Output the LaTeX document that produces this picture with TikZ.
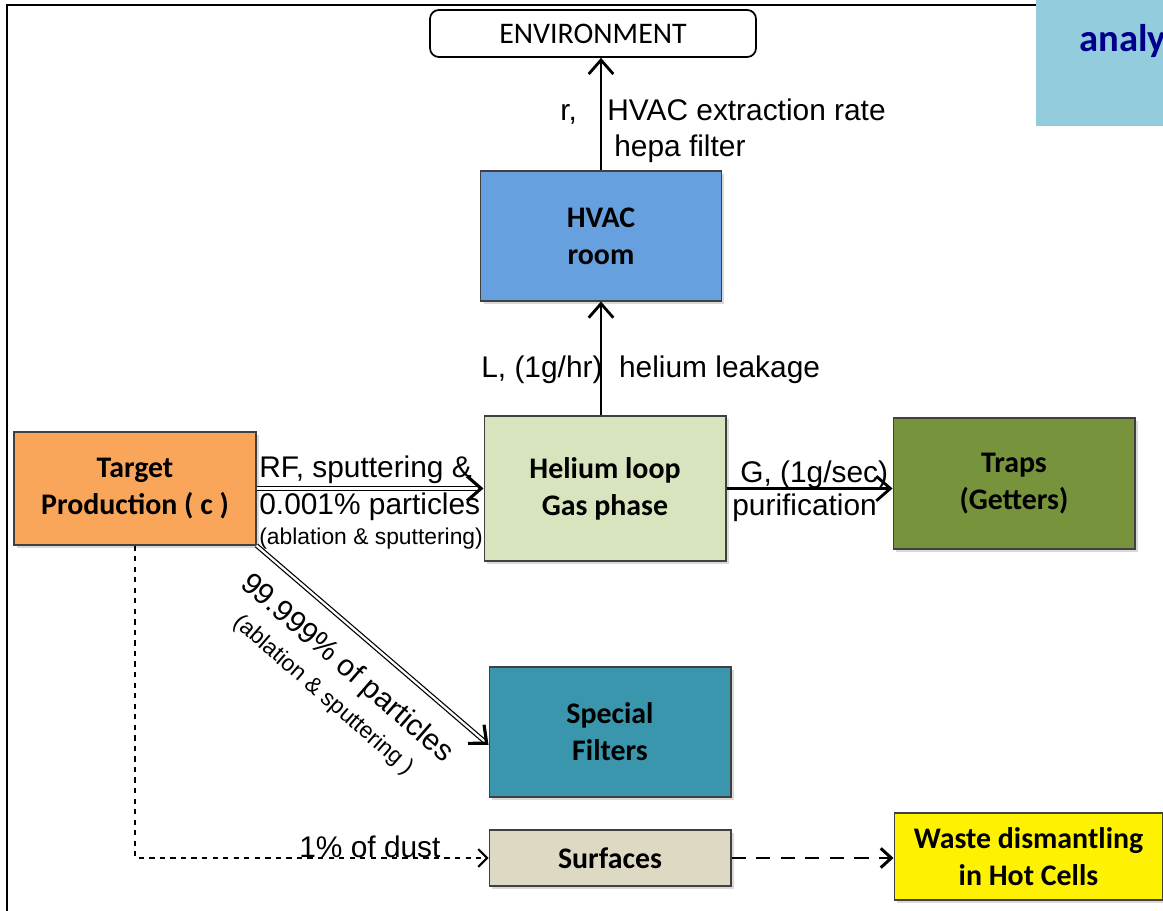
\documentclass[tikz,border=0pt]{standalone}
\usepackage{fontspec}
\setmainfont{Liberation Sans}
\newfontfamily\boxfont{Carlito}
\usetikzlibrary{positioning,arrows.meta,shadows}

\definecolor{targetc}{RGB}{250,166,90}
\definecolor{hvacc}{RGB}{102,160,222}
\definecolor{heliumc}{RGB}{215,228,189}
\definecolor{trapsc}{RGB}{119,147,60}
\definecolor{filterc}{RGB}{58,150,172}
\definecolor{surfc}{RGB}{221,217,195}
\definecolor{cornerc}{RGB}{147,205,221}
\definecolor{cornertxt}{RGB}{0,0,140}

\begin{document}
\begin{tikzpicture}
  [x=0.02cm,y=-0.02cm,
   every node/.style={inner sep=0pt},
   box/.style={draw=black!75,line width=0.6pt,align=center,
     font=\boxfont\bfseries\fontsize{17}{21}\selectfont,
     drop shadow={opacity=0.3,shadow xshift=0.6mm,shadow yshift=-0.6mm}},
   lbl/.style={font=\fontsize{17}{20}\selectfont},
   small/.style={font=\fontsize{13}{15}\selectfont},
   flow/.style={line width=1.6pt,-{Straight Barb[length=8pt,width=14pt]}},
   dflow/.style={double,double distance=1.3pt,line width=0.7pt,
     -{Straight Barb[length=8pt,width=14pt,line width=1.8pt]}},
   dust/.style={dashed,line width=0.8pt,-{Straight Barb[length=5pt,width=10pt,line width=1.2pt]}},
   waste/.style={dash pattern=on 8pt off 6pt,line width=1.7pt,
     -{Straight Barb[length=6pt,width=11pt]}}]
  \useasboundingbox (0,0) rectangle (1163,911);
  \draw[line width=1.2pt] (7,911) -- (7,5) -- (1036,5);

  % corner box, cut by the page edge
  \fill[cornerc] (1036,0) rectangle (1163,126);
  \begin{scope}
    \clip (1036,0) rectangle (1163,126);
    \node (anl) [anchor=base west,text=cornertxt,
      font=\boxfont\bfseries\fontsize{22}{26}\selectfont] at (1079,52) {analy};
  \end{scope}

  \node (env) [draw,line width=1pt,rounded corners=5pt,fill=white,
    minimum width=6.52cm,minimum height=0.94cm,
    font=\boxfont\fontsize{17}{20}\selectfont] at (593,33.5) {ENVIRONMENT};
  \node (hvac) [box,fill=hvacc,minimum width=4.82cm,minimum height=2.6cm]
    at (601,236) {HVAC\\room};
  \node (target) [box,fill=targetc,minimum width=4.84cm,minimum height=2.26cm]
    at (135,488.5) {Target\\Production ( c )};
  \node (helium) [box,fill=heliumc,minimum width=4.84cm,minimum height=2.9cm]
    at (605,488.5) {Helium loop\\Gas phase};
  \node (traps) [box,fill=trapsc,minimum width=4.84cm,minimum height=2.62cm]
    at (1014,483.5) {Traps\\(Getters)};
  \node (filters) [box,fill=filterc,minimum width=4.84cm,minimum height=2.6cm]
    at (610,732) {Special\\Filters};
  \node (surf) [box,fill=surfc,minimum width=4.84cm,minimum height=1.12cm]
    at (610,858) {Surfaces};
  \node (waste) [box,fill=yellow,minimum width=5.38cm,minimum height=1.74cm]
    at (1028.5,856.5) {Waste dismantling\\in Hot Cells};

  % labels
  \node (rr) [lbl,anchor=base west] at (560,121) {r,};
  \node (rate) [lbl,anchor=base west] at (607,121) {HVAC extraction rate};
  \node (hepa) [lbl,anchor=base west] at (614,157) {hepa filter};
  \node (leak) [lbl,anchor=base west] at (481,378) {L, (1g/hr)\ \ helium leakage};
  \node (rf) [lbl,anchor=base west] at (259,478) {RF, sputtering \&};
  \node (part) [lbl,anchor=base west] at (259,515) {0.001\% particles};
  \node (abl) [small,anchor=base west] at (259,545) {(ablation \& sputtering)};
  \node (gg) [lbl,anchor=base west] at (740,483) {G, (1g/sec)};
  \node (puri) [lbl,anchor=base west] at (732,516) {purification};
  \node (pct) [lbl,rotate=-41,align=center,font=\fontsize{17}{19}\selectfont]
    at (336,681) {99.999\% of particles\\\fontsize{13}{15}\selectfont(ablation \& sputtering )};
  \node (dustl) [lbl,anchor=base west] at (299,857) {1\% of dust};

  % flows
  \draw[flow] (hvac.north) -- (hvac.north |- env.south);
  \draw[flow] (helium.north -| hvac.south) -- (hvac.south);
  \draw[flow] (helium.east) -- (helium.east -| traps.west);
  \draw[dflow] (target.east) -- (helium.west);
  \draw[dflow] (target.south east) -- (filters.186);
  \draw[dust] (target.south) |- (surf.west);
  \draw[waste] (surf.east) -- (surf.east -| waste.west);

\end{tikzpicture}
\end{document}
